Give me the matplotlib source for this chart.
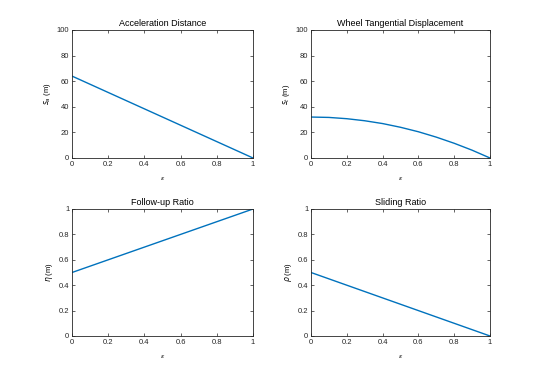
import matplotlib
matplotlib.use("Agg")
import matplotlib.pyplot as plt

plt.rcParams['font.family'] = ['Liberation Sans', 'DejaVu Sans']

eps = [0.0, 0.1, 0.2, 0.3, 0.4, 0.5, 0.6, 0.7, 0.8, 0.9, 1.0]
accel_distance = [64.0, 57.6, 51.2, 44.8, 38.4, 32.0, 25.6, 19.2, 12.8, 6.4, 0.0]
wheel_tangential = [32.0, 31.7, 30.7, 29.1, 26.9, 24.0, 20.5, 16.3, 11.5, 6.1, 0.0]
follow_up_ratio = [0.5, 0.55, 0.6, 0.65, 0.7, 0.75, 0.8, 0.85, 0.9, 0.95, 1.0]
sliding_ratio = [0.5, 0.45, 0.4, 0.35, 0.3, 0.25, 0.2, 0.15, 0.1, 0.05, 0.0]

titles = ["Acceleration Distance", "Wheel Tangential Displacement", "Follow-up Ratio", "Sliding Ratio"]
ylabels = [r"$s_a$ (m)", r"$s_t$ (m)", r"$\eta$ (m)", r"$\rho$ (m)"]
series = [accel_distance, wheel_tangential, follow_up_ratio, sliding_ratio]
ylims = [(0, 100), (0, 100), (0, 1), (0, 1)]
yticks = [[0, 20, 40, 60, 80, 100], [0, 20, 40, 60, 80, 100],
          [0, 0.2, 0.4, 0.6, 0.8, 1], [0, 0.2, 0.4, 0.6, 0.8, 1]]
xticks = [0, 0.2, 0.4, 0.6, 0.8, 1]

W, H = 544, 378
fig = plt.figure(figsize=(W / 100, H / 100), dpi=100)
boxes = [(72, 30, 253, 158), (311, 30, 490, 158), (72, 209, 253, 336), (311, 209, 490, 336)]
edge = '#262626'
for i, (x0, y0, x1, y1) in enumerate(boxes):
    ax = fig.add_axes([x0 / W, 1 - y1 / H, (x1 - x0) / W, (y1 - y0) / H])
    ax.plot(eps, series[i], color='#0072BD', lw=1.0)
    ax.set_xlim(0, 1)
    ax.set_ylim(*ylims[i])
    ax.set_xticks(xticks)
    ax.set_xticklabels(['0', '0.2', '0.4', '0.6', '0.8', '1'])
    ax.set_yticks(yticks[i])
    if ylims[i][1] == 1:
        ax.set_yticklabels(['0', '0.2', '0.4', '0.6', '0.8', '1'])
    ax.tick_params(direction='in', length=2.5, width=0.5, labelsize=5.5, colors=edge,
                   top=True, right=True, pad=2)
    for s in ax.spines.values():
        s.set_color(edge)
        s.set_linewidth(0.6)
    ax.set_title(titles[i], fontsize=6.5, pad=3, color='black')
    ax.set_ylabel(ylabels[i], fontsize=5.5, labelpad=3)
    ax.set_xlabel(r"$\epsilon$", fontsize=4.5, labelpad=5)

fig.savefig("out.png", dpi=100, facecolor='white')
